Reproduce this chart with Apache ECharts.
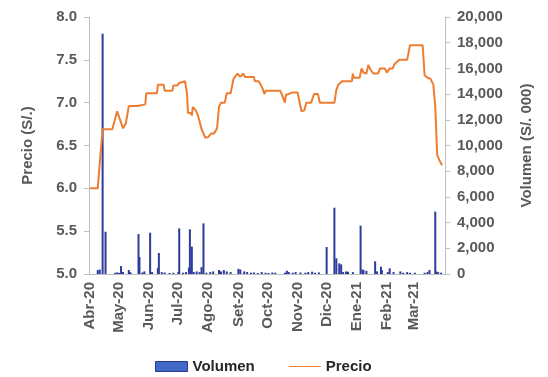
<!DOCTYPE html>
<html>
<head>
<meta charset="utf-8">
<script src="https://cdn.jsdelivr.net/npm/echarts@6/dist/echarts.min.js"></script>
<style>
  html, body { margin: 0; padding: 0; background: #fff; }
  #chart { width: 548px; height: 377px; }
</style>
</head>
<body>
<div id="chart"></div>
<script>
  // precio diario (S/.)
  var precioFechas = [
    '2020-04-01', '2020-04-09', '2020-04-11', '2020-04-14', '2020-04-24', '2020-04-29',
    '2020-05-05', '2020-05-08', '2020-05-11', '2020-05-20', '2020-05-21', '2020-05-28',
    '2020-05-29', '2020-06-09', '2020-06-10', '2020-06-16', '2020-06-17', '2020-06-25',
    '2020-06-26', '2020-06-30', '2020-07-02', '2020-07-03', '2020-07-08', '2020-07-10',
    '2020-07-11', '2020-07-14', '2020-07-15', '2020-07-16', '2020-07-19', '2020-07-21',
    '2020-07-23', '2020-07-25', '2020-07-27', '2020-07-29', '2020-08-01', '2020-08-04',
    '2020-08-07', '2020-08-10', '2020-08-12', '2020-08-14', '2020-08-18', '2020-08-20',
    '2020-08-24', '2020-08-27', '2020-08-31', '2020-09-03', '2020-09-06', '2020-09-08',
    '2020-09-17', '2020-09-18', '2020-09-22', '2020-09-24', '2020-09-26', '2020-09-28',
    '2020-09-29', '2020-10-14', '2020-10-16', '2020-10-18', '2020-10-19', '2020-10-20',
    '2020-10-27', '2020-11-01', '2020-11-03', '2020-11-05', '2020-11-08', '2020-11-10',
    '2020-11-15', '2020-11-18', '2020-11-22', '2020-11-24', '2020-12-09', '2020-12-11',
    '2020-12-13', '2020-12-15', '2020-12-17', '2020-12-27', '2020-12-28', '2020-12-29',
    '2021-01-04', '2021-01-06', '2021-01-08', '2021-01-09', '2021-01-11', '2021-01-13',
    '2021-01-15', '2021-01-18', '2021-01-23', '2021-01-25', '2021-01-30', '2021-02-01',
    '2021-02-04', '2021-02-07', '2021-02-09', '2021-02-11', '2021-02-14', '2021-02-22',
    '2021-02-25', '2021-03-10', '2021-03-12', '2021-03-15', '2021-03-18', '2021-03-21',
    '2021-03-23', '2021-03-25', '2021-03-28', '2021-03-30'
  ];
  var precioValores = [
    6.00, 6.00, 6.29, 6.69, 6.69, 6.90,
    6.70, 6.76, 6.96, 6.96, 6.98, 6.98,
    7.11, 7.11, 7.21, 7.21, 7.14, 7.14,
    7.20, 7.20, 7.23, 7.25, 7.25, 7.11,
    6.88, 6.88, 6.85, 6.95, 6.91, 6.86,
    6.78, 6.69, 6.68, 6.59, 6.60, 6.64,
    6.64, 6.70, 6.95, 7.00, 7.00, 7.11,
    7.11, 7.28, 7.34, 7.30, 7.34, 7.30,
    7.30, 7.25, 7.25, 7.21, 7.16, 7.10,
    7.14, 7.14, 7.09, 7.08, 7.00, 7.09,
    7.12, 7.12, 7.01, 6.90, 6.91, 7.00,
    7.00, 7.10, 7.10, 7.00, 7.00, 7.15,
    7.21, 7.21, 7.25, 7.25, 7.34, 7.29,
    7.29, 7.40, 7.35, 7.36, 7.34, 7.44,
    7.39, 7.34, 7.34, 7.40, 7.40, 7.35,
    7.40, 7.40, 7.45, 7.45, 7.50, 7.50,
    7.67, 7.67, 7.32, 7.29, 7.28, 7.21,
    6.95, 6.39, 6.31, 6.27
  ];

  // volumen negociado (S/. 000)
  var volumenFechas = [
    '2020-04-09', '2020-04-11', '2020-04-14', '2020-04-17', '2020-04-27', '2020-04-29',
    '2020-05-01', '2020-05-03', '2020-05-05', '2020-05-11', '2020-05-12', '2020-05-13',
    '2020-05-21', '2020-05-22', '2020-05-25', '2020-05-27', '2020-06-02', '2020-06-04',
    '2020-06-10', '2020-06-11', '2020-06-14', '2020-06-17', '2020-06-22', '2020-06-26',
    '2020-07-01', '2020-07-02', '2020-07-06', '2020-07-09', '2020-07-12', '2020-07-13',
    '2020-07-15', '2020-07-17', '2020-07-20', '2020-07-23', '2020-07-25', '2020-07-27',
    '2020-07-30', '2020-08-03', '2020-08-06', '2020-08-12', '2020-08-14', '2020-08-17',
    '2020-08-20', '2020-08-24', '2020-09-01', '2020-09-03', '2020-09-07', '2020-09-10',
    '2020-09-14', '2020-09-17', '2020-09-21', '2020-09-25', '2020-09-29', '2020-10-02',
    '2020-10-06', '2020-10-09', '2020-10-19', '2020-10-21', '2020-10-23', '2020-10-27',
    '2020-10-30', '2020-11-04', '2020-11-09', '2020-11-12', '2020-11-16', '2020-11-19',
    '2020-11-23', '2020-12-01', '2020-12-09', '2020-12-11', '2020-12-14', '2020-12-16',
    '2020-12-18', '2020-12-21', '2020-12-23', '2020-12-28', '2021-01-05', '2021-01-07',
    '2021-01-08', '2021-01-11', '2021-01-20', '2021-01-22', '2021-01-26', '2021-01-27',
    '2021-02-02', '2021-02-04', '2021-02-08', '2021-02-15', '2021-02-18', '2021-02-22',
    '2021-02-25', '2021-03-02', '2021-03-12', '2021-03-15', '2021-03-17', '2021-03-23',
    '2021-03-24', '2021-03-26', '2021-03-29'
  ];
  var volumenValores = [
    300, 350, 18700, 3290, 100, 120,
    90, 620, 150, 310, 150, 100,
    3110, 1320, 120, 200, 3210, 150,
    470, 1630, 150, 120, 80, 100,
    150, 3550, 100, 150, 500, 3480,
    2130, 150, 200, 150, 540, 3940,
    100, 150, 200, 310, 200, 300,
    200, 150, 400, 350, 200, 150,
    100, 120, 80, 150, 100, 80,
    120, 100, 100, 260, 150, 100,
    150, 120, 100, 150, 180, 100,
    120, 2100, 5160, 1220, 830, 750,
    150, 200, 180, 150, 3760, 350,
    300, 250, 990, 200, 570, 300,
    150, 440, 150, 200, 100, 150,
    100, 100, 100, 150, 310, 4850,
    200, 150, 100
  ];

  var precioTicks = ['5.0', '5.5', '6.0', '6.5', '7.0', '7.5', '8.0'];
  var meses = ['Ene', 'Feb', 'Mar', 'Abr', 'May', 'Jun', 'Jul', 'Ago', 'Set', 'Oct', 'Nov', 'Dic'];

  var precioData = precioFechas.map(function (f, i) { return [f, precioValores[i]]; });
  var volumenData = volumenFechas.map(function (f, i) { return [f, volumenValores[i]]; });

  var gris = '#595959';
  var lineaEje = '#bfbfbf';
  var fuente = 'Liberation Sans, Arial, sans-serif';

  var myChart = echarts.init(document.getElementById('chart'));
  var option = {
    animation: false,
    textStyle: { fontFamily: fuente },
    grid: { left: 89, right: 103, top: 17, bottom: 103 },
    legend: {
      bottom: 3,
      left: 155,
      padding: 0,
      itemWidth: 32,
      itemHeight: 10,
      itemGap: 34,
      textStyle: { fontSize: 15, fontWeight: 'bold', color: '#262626' },
      data: [
        { name: 'Volumen', icon: 'rect', itemStyle: { color: '#4169c8', borderColor: '#2a3990', borderWidth: 1 } },
        { name: 'Precio', icon: 'path://M0,4.4 L32,4.4 L32,5.6 L0,5.6 Z' }
      ]
    },
    xAxis: {
      type: 'time',
      min: '2020-04-01',
      max: '2021-04-01',
      splitNumber: 12,
      axisLine: { lineStyle: { color: lineaEje } },
      axisTick: { show: false },
      splitLine: { show: false },
      axisLabel: {
        rotate: 90,
        margin: 8,
        fontSize: 15,
        fontWeight: 'bold',
        color: gris,
        showMaxLabel: false,
        formatter: function (v) {
          var d = new Date(v);
          if (d.getFullYear() === 2021 && d.getMonth() >= 3) return '';
          return meses[d.getMonth()] + '-' + String(d.getFullYear()).slice(2);
        }
      }
    },
    yAxis: [
      {
        type: 'value',
        name: 'Precio (S/.)',
        nameLocation: 'middle',
        nameGap: 54,
        nameTextStyle: { fontSize: 15, fontWeight: 'bold', color: gris },
        min: 5,
        max: 8,
        interval: 0.5,
        axisLine: { show: true, lineStyle: { color: lineaEje } },
        axisTick: { show: true, length: 5, lineStyle: { color: lineaEje } },
        splitLine: { show: false },
        axisLabel: {
          fontSize: 15,
          fontWeight: 'bold',
          color: gris,
          margin: 12,
          formatter: function (v) { return precioTicks[Math.round((v - 5) / 0.5)]; }
        }
      },
      {
        type: 'value',
        name: 'Volumen (S/. 000)',
        nameLocation: 'middle',
        nameGap: 74,
        nameRotate: 90,
        nameTextStyle: { fontSize: 15, fontWeight: 'bold', color: gris },
        min: 0,
        max: 20000,
        interval: 2000,
        axisLine: { show: true, lineStyle: { color: lineaEje } },
        axisTick: { show: true, length: 5, lineStyle: { color: lineaEje } },
        splitLine: { show: false },
        axisLabel: {
          fontSize: 15,
          fontWeight: 'bold',
          color: gris,
          margin: 12,
          formatter: function (v) { return v.toLocaleString('en-US'); }
        }
      }
    ],
    series: [
      {
        name: 'Volumen',
        type: 'bar',
        yAxisIndex: 1,
        barWidth: 2,
        itemStyle: { color: '#2c3b9c' },
        data: volumenData
      },
      {
        name: 'Precio',
        type: 'line',
        yAxisIndex: 0,
        showSymbol: false,
        symbol: 'none',
        lineStyle: { color: '#ed7d31', width: 2 },
        itemStyle: { color: '#ed7d31' },
        data: precioData
      }
    ]
  };
  myChart.setOption(option);
</script>
</body>
</html>
